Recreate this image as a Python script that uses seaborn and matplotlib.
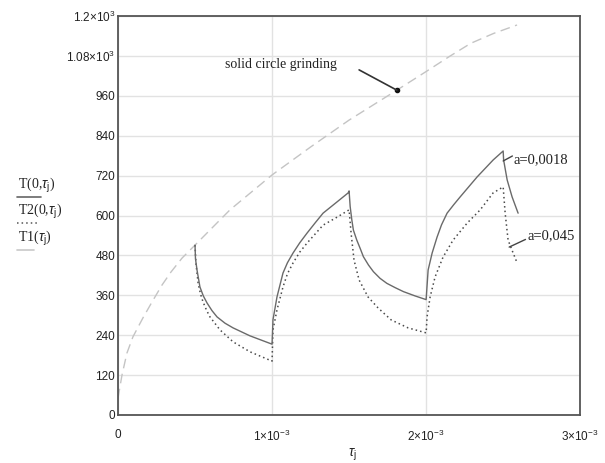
import numpy as np
import pandas as pd
import matplotlib
matplotlib.use("Agg")
import matplotlib.pyplot as plt
from matplotlib.lines import Line2D
import seaborn as sns

# ---- data (time in units of 1e-3 s, temperature) ----
t1_time = [0, 0.026, 0.058, 0.097, 0.162, 0.221, 0.286, 0.344, 0.416, 0.5, 0.727,
           1.0, 1.25, 1.5, 1.81, 2.0, 2.15, 2.29, 2.44, 2.59]
t1_temp = [50, 120, 186, 235, 292, 340, 391, 430, 472, 511, 617,
           722, 806, 887, 977, 1033, 1078, 1118, 1148, 1173]

t_time = [0.5, 0.503, 0.513, 0.532, 0.554, 0.578, 0.61, 0.643, 0.695, 0.747, 0.857, 1.0,
          1.006, 1.032, 1.071, 1.1, 1.136, 1.18, 1.227, 1.28, 1.331, 1.422, 1.494, 1.5,
          1.507, 1.518, 1.528, 1.55, 1.572, 1.593, 1.626, 1.658, 1.701,
          1.745, 1.799, 1.853, 1.929, 2.0,
          2.013, 2.039, 2.071, 2.1, 2.136, 2.18, 2.221, 2.331, 2.435, 2.5,
          2.503, 2.526, 2.558, 2.597]
t_temp = [511, 470, 436, 385, 358, 337, 314, 295, 276, 262, 238, 213,
          286, 355, 427, 458, 487, 518, 547, 578, 607, 641, 668, 674,
          627, 586, 556, 526, 501, 476, 451, 431, 411,
          396, 383, 371, 358, 347,
          436, 487, 535, 572, 607, 633, 656, 716, 767, 794,
          767, 707, 656, 607]

t2_time = [0.5, 0.506, 0.52, 0.535, 0.552, 0.575, 0.597, 0.662, 0.747, 0.857, 1.0,
           1.006, 1.032, 1.071, 1.1, 1.136, 1.18, 1.227, 1.331, 1.422, 1.5,
           1.513, 1.532, 1.565, 1.623, 1.688, 1.773, 1.883, 2.0,
           2.006, 2.026, 2.058, 2.11, 2.175, 2.266, 2.351, 2.435, 2.5,
           2.513, 2.532, 2.565, 2.591]
t2_temp = [511, 457, 397, 365, 340, 315, 295, 256, 220, 190, 162,
           256, 316, 385, 425, 457, 490, 517, 571, 595, 617,
           547, 466, 406, 355, 322, 286, 262, 247,
           295, 355, 415, 475, 526, 577, 617, 668, 686,
           607, 526, 487, 457]

y_ticks = [0, 120, 240, 360, 480, 600, 720, 840, 960, 1080, 1200]
y_labels = ["0", "120", "240", "360", "480", "600", "720", "840", "960",
            r"1.08$\times$10$^{3}$", r"1.2$\times$10$^{3}$"]
x_ticks = [0, 1e-3, 2e-3, 3e-3]
x_labels = ["0", r"1$\times$10$^{-3}$", r"2$\times$10$^{-3}$", r"3$\times$10$^{-3}$"]

df1 = pd.DataFrame({"t": np.array(t1_time) * 1e-3, "T": t1_temp})
df = pd.DataFrame({"t": np.array(t_time) * 1e-3, "T": t_temp})
df2 = pd.DataFrame({"t": np.array(t2_time) * 1e-3, "T": t2_temp})

sns.set_style("white")
plt.rcParams["font.family"] = ["Liberation Sans", "DejaVu Sans"]
plt.rcParams["mathtext.fontset"] = "custom"
plt.rcParams["mathtext.rm"] = "Liberation Sans"
plt.rcParams["mathtext.it"] = "Liberation Sans:italic"

fig = plt.figure(figsize=(6.05, 4.63), dpi=100)
ax = fig.add_axes([0.195, 0.1037, 0.764, 0.8617])

sns.lineplot(data=df1, x="t", y="T", ax=ax, color="#c4c4c4", lw=1.0,
             linestyle=(0, (7, 4)), sort=False)
sns.lineplot(data=df2, x="t", y="T", ax=ax, color="#4a4a4a", lw=1.1,
             linestyle=(0, (1, 2)), sort=False)
sns.lineplot(data=df, x="t", y="T", ax=ax, color="#6a6a6a", lw=1.0,
             sort=False)

ax.set_xlim(0, 3e-3)
ax.set_ylim(0, 1200)
ax.set_xticks(x_ticks)
ax.set_xticklabels(x_labels, fontsize=8.5, color="#222222")
ax.set_yticks(y_ticks)
ax.set_yticklabels(y_labels, fontsize=8.5, color="#222222")
ax.tick_params(axis="both", length=0)
ax.tick_params(axis="x", pad=10)
ax.tick_params(axis="y", pad=2)
ax.set_xlabel("")
ax.set_ylabel("")
ax.grid(True, color="#e2e2e2", lw=1.0)
ax.set_axisbelow(True)
for s in ax.spines.values():
    s.set_color("#555555")
    s.set_linewidth(1.3)

# annotations
serif = ["Liberation Serif", "DejaVu Serif"]
ax.text(0.695e-3, 1053, "solid circle grinding", fontsize=10, family=serif,
        ha="left", va="center", color="#222222")
ax.annotate("", xy=(1.81e-3, 977), xytext=(1.565e-3, 1038),
            arrowprops=dict(arrowstyle="-", color="#333333", lw=1.2,
                            shrinkA=0, shrinkB=0))
ax.plot([1.81e-3], [977], marker="o", ms=3, color="#111111")

ax.text(2.566e-3, 767, "a=0,0018", fontsize=10.5, family=serif,
        ha="left", va="center", color="#222222")
ax.annotate("", xy=(2.5e-3, 764), xytext=(2.56e-3, 779),
            arrowprops=dict(arrowstyle="-", color="#444444", lw=1.0,
                            shrinkA=0, shrinkB=0))
ax.text(2.66e-3, 538, "a=0,045", fontsize=10.5, family=serif,
        ha="left", va="center", color="#222222")
ax.annotate("", xy=(2.539e-3, 505), xytext=(2.645e-3, 528),
            arrowprops=dict(arrowstyle="-", color="#444444", lw=1.0,
                            shrinkA=0, shrinkB=0))

# left-hand y labels with line samples
W, H = 605, 463
def fx(px):
    return px / W
def fy(py):
    return 1 - py / H

fig.text(fx(18), fy(185), r"T(0,$\tau_{\mathrm{j}}$)", fontsize=10, family=serif,
         ha="left", va="center", color="#222222")
fig.add_artist(Line2D([fx(17), fx(41)], [fy(197), fy(197)], color="#666666", lw=1.2))
fig.text(fx(18), fy(211), r"T2(0,$\tau_{\mathrm{j}}$)", fontsize=10, family=serif,
         ha="left", va="center", color="#222222")
fig.add_artist(Line2D([fx(17), fx(38)], [fy(223), fy(223)], color="#555555", lw=1.1,
                      linestyle=(0, (1, 2))))
fig.text(fx(18), fy(238), r"T1($\tau_{\mathrm{j}}$)", fontsize=10, family=serif,
         ha="left", va="center", color="#222222")
fig.add_artist(Line2D([fx(17), fx(34)], [fy(250), fy(250)], color="#c8c8c8", lw=1.2))

fig.text(fx(352), fy(455), r"$\tau_{\mathrm{j}}$", fontsize=10, family=serif,
         ha="center", va="center", color="#222222")

fig.savefig("out.png", dpi=100)
